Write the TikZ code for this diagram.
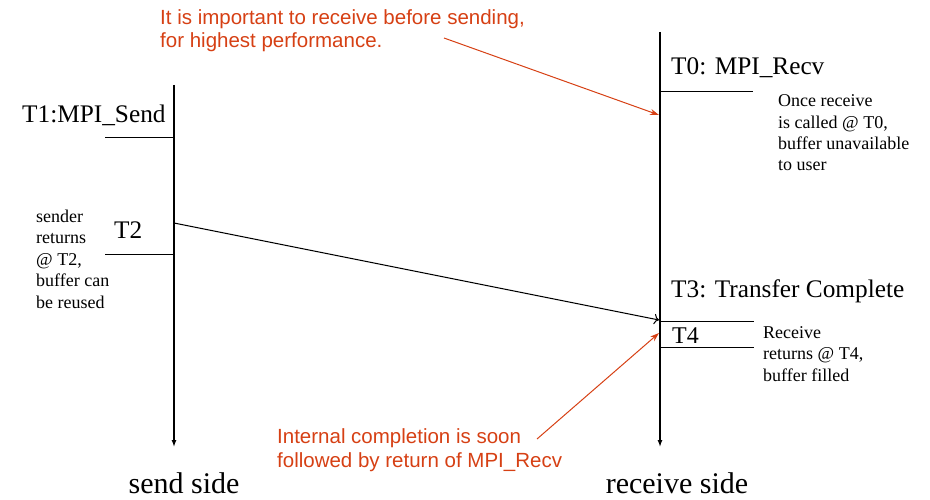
\documentclass[tikz,border=0pt]{standalone}
\usepackage{fontspec}
\setmainfont{Liberation Serif}
\newfontfamily\redsans{Liberation Sans}
\usetikzlibrary{arrows.meta}
\definecolor{annot}{RGB}{214,64,20}
\begin{document}
\begin{tikzpicture}[x=1pt,y=-1pt,
  timeline/.style={line width=1.3pt, -{Latex[length=7pt,width=5pt]}},
  tick/.style={line width=1pt},
  label/.style={inner sep=0pt, anchor=base west, font=\fontsize{25.3}{30}\selectfont},
  note/.style={inner sep=0pt, anchor=base west, align=left, font=\fontsize{18}{21.4}\selectfont},
  redtext/.style={inner sep=0pt, anchor=base west, align=left, text=annot, font=\redsans\fontsize{20.5}{23.5}\selectfont},
  redarrow/.style={draw=annot, line width=1pt, -{Stealth[length=9pt,width=6pt]}},
  msg/.style={line width=1pt, -{To[length=5pt]}},
  side/.style={inner sep=0pt, anchor=base, font=\fontsize{30}{36}\selectfont}]
\useasboundingbox (0,0) rectangle (930,500);
% timelines
\coordinate (sTop) at (174,85);
\coordinate (sBot) at (174,447);
\coordinate (rTop) at (660,32);
\coordinate (rBot) at (660,447);
\draw[timeline] (sTop) -- (sBot);
\draw[timeline] (rTop) -- (rBot);
% ticks
\coordinate (t1a) at (105,138); \coordinate (t1b) at (174,138);
\coordinate (t2a) at (105,254); \coordinate (t2b) at (174,254);
\coordinate (t0a) at (660,92);  \coordinate (t0b) at (753,92);
\coordinate (t3a) at (660,321); \coordinate (t3b) at (754,321);
\coordinate (t4a) at (660,347); \coordinate (t4b) at (754,347);
\draw[tick] (t1a) -- (t1b);
\draw[tick] (t2a) -- (t2b);
\draw[tick] (t0a) -- (t0b);
\draw[tick] (t3a) -- (t3b);
\draw[tick] (t4a) -- (t4b);
% message
\coordinate (m0) at (174,223);
\coordinate (m1) at (659,320);
\draw[msg] (m0) -- (m1);
% labels
\node[label] (T1) at (22,123) {T1:MPI\_Send};
\node[label] (T2) at (114,238) {T2};
\node[note] (sendnote) at (36,308) {sender\\returns\\@ T2,\\buffer can\\be reused};
\node[label] (T0) at (671,75) {T0: MPI\_Recv};
\node[note] (recvnote) at (778,171) {Once receive\\is called @ T0,\\buffer unavailable\\to user};
\node[label] (T3) at (671,298) {T3: Transfer Complete};
\node[label, font=\fontsize{24}{28}\selectfont] (T4) at (672,343) {T4};
\node[note] (t4note) at (763,381) {Receive\\returns @ T4,\\buffer filled};
% red annotations
\node[redtext] (redtop) at (160,48) {It is important to receive before sending,\\for highest performance.};
\node[redtext] (redbot) at (277,467) {Internal completion is soon\\followed by return of MPI\_Recv};
\coordinate (ra0) at (444,38);
\coordinate (ra1) at (659,115);
\coordinate (rb0) at (537,439);
\coordinate (rb1) at (659,333);
\draw[redarrow] (ra0) -- (ra1);
\draw[redarrow] (rb0) -- (rb1);
% side labels
\node[side] (sendside) at (184,493) {send side};
\node[side] (recvside) at (677,493) {receive side};
\end{tikzpicture}
\end{document}
